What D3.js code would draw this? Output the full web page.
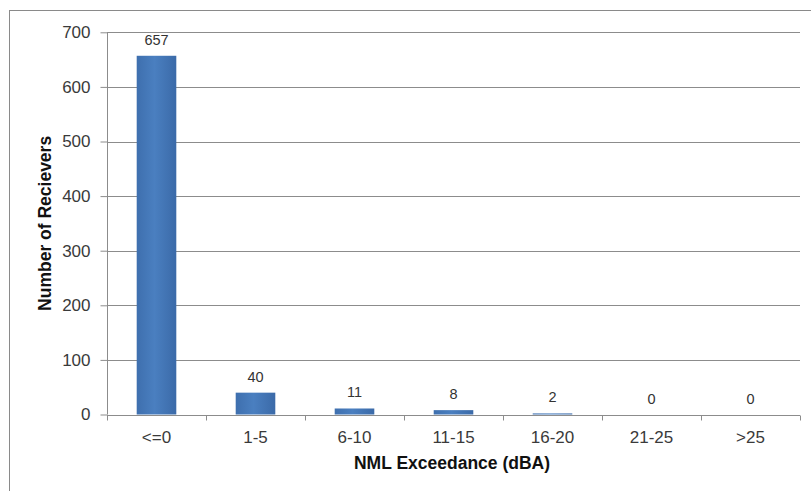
<!DOCTYPE html>
<html>
<head>
<meta charset="utf-8">
<script src="https://cdn.jsdelivr.net/npm/d3@7"></script>
<style>
  html, body { margin: 0; padding: 0; background: #fff; }
  svg { display: block; font-family: Arial, "Liberation Sans", sans-serif; }
</style>
</head>
<body>
<svg id="chart" width="811" height="491"></svg>
<script>
// Receiver counts per NML exceedance band
const categories = ["<=0", "1-5", "6-10", "11-15", "16-20", "21-25", ">25"];
const receivers = [657, 40, 11, 8, 2, 0, 0];
const yTicks = [0, 100, 200, 300, 400, 500, 600, 700];

const FONT = "Arial, 'Liberation Sans', sans-serif";
const svg = d3.select("#chart");
const plot = { left: 107, right: 800, top: 32.3, bottom: 414.5 };

// chart frame
svg.append("rect")
  .attr("x", 9.5).attr("y", 10.5)
  .attr("width", 830).attr("height", 500)
  .attr("fill", "#fff").attr("stroke", "#8a8a8a").attr("stroke-width", 1);

const x = d3.scaleBand().domain(categories).range([plot.left, plot.right]).paddingInner(0.6).paddingOuter(0.3);
const xOuter = d3.scaleBand().domain(categories).range([plot.left, plot.right]);
const y = d3.scaleLinear().domain([0, 700]).range([plot.bottom, plot.top]);

// horizontal gridlines
svg.append("g").selectAll("line")
  .data(yTicks.filter(t => t > 0))
  .join("line")
  .attr("x1", plot.left).attr("x2", plot.right)
  .attr("y1", d => Math.round(y(d)) + 0.5).attr("y2", d => Math.round(y(d)) + 0.5)
  .attr("stroke", "#8c8c8c").attr("stroke-width", 1);

// bars with a subtle horizontal shading
const defs = svg.append("defs");
const grad = defs.append("linearGradient").attr("id", "barFill").attr("x1", "0").attr("x2", "1").attr("y1", "0").attr("y2", "0");
grad.append("stop").attr("offset", "0%").attr("stop-color", "#3e6fae");
grad.append("stop").attr("offset", "45%").attr("stop-color", "#4a7fc0");
grad.append("stop").attr("offset", "100%").attr("stop-color", "#3b6aa8");

const data = categories.map((c, i) => ({ c, v: receivers[i] }));
svg.append("g").selectAll("rect")
  .data(data)
  .join("rect")
  .attr("x", d => x(d.c))
  .attr("width", x.bandwidth())
  .attr("y", d => y(d.v))
  .attr("height", d => plot.bottom - y(d.v))
  .attr("fill", "url(#barFill)");

// value labels above bars
svg.append("g").selectAll("text")
  .data(data)
  .join("text")
  .attr("x", d => x(d.c) + x.bandwidth() / 2)
  .attr("y", d => y(d.v) - 11)
  .attr("text-anchor", "middle")
  .attr("font-size", 14.5)
  .attr("font-family", FONT)
  .attr("fill", "#333")
  .text(d => d.v);

// y axis
const yAxis = svg.append("g")
  .attr("transform", `translate(${plot.left + 0.5},0)`)
  .call(d3.axisLeft(y).tickValues(yTicks).tickSize(7).tickPadding(10).tickFormat(d3.format("d")));
yAxis.select(".domain").attr("stroke", "#8c8c8c").attr("d", `M0,${plot.top}V${plot.bottom}`);
yAxis.selectAll(".tick line").attr("stroke", "#8c8c8c");
yAxis.selectAll(".tick text").attr("font-size", 17).attr("fill", "#3a3a3a").attr("font-family", FONT);

// x axis
const xAxis = svg.append("g")
  .attr("transform", `translate(0,${Math.round(plot.bottom) + 0.5})`)
  .call(d3.axisBottom(xOuter).tickSize(0).tickPadding(15));
xAxis.select(".domain").attr("stroke", "#8c8c8c").attr("d", `M${plot.left},0H${plot.right}`);
xAxis.selectAll(".tick text").attr("font-size", 17).attr("fill", "#3a3a3a").attr("font-family", FONT);
// category separators
svg.append("g").selectAll("line")
  .data(categories.concat(["end"]))
  .join("line")
  .attr("x1", (d, i) => Math.round(plot.left + i * xOuter.step()) + 0.5)
  .attr("x2", (d, i) => Math.round(plot.left + i * xOuter.step()) + 0.5)
  .attr("y1", Math.round(plot.bottom) + 0.5)
  .attr("y2", Math.round(plot.bottom) + 5.5)
  .attr("stroke", "#8c8c8c");

// axis titles
svg.append("text")
  .attr("x", 452)
  .attr("y", 469)
  .attr("text-anchor", "middle")
  .attr("font-size", 17.5).attr("font-weight", "bold").attr("fill", "#111")
  .attr("font-family", FONT)
  .text("NML Exceedance (dBA)");

svg.append("text")
  .attr("transform", `translate(51,${(plot.top + plot.bottom) / 2}) rotate(-90)`)
  .attr("text-anchor", "middle")
  .attr("font-size", 17.5).attr("font-weight", "bold").attr("fill", "#111")
  .attr("font-family", FONT)
  .text("Number of Recievers");
</script>
</body>
</html>
